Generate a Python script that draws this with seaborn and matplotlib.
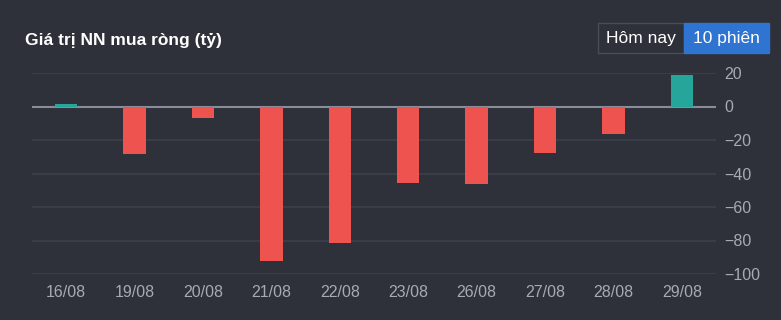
import matplotlib
matplotlib.use("Agg")
import matplotlib.pyplot as plt
import seaborn as sns
import pandas as pd
from matplotlib.patches import Rectangle

dates = ["16/08", "19/08", "20/08", "21/08", "22/08", "23/08", "26/08", "27/08", "28/08", "29/08"]
values = [1.2, -28.5, -7.0, -92.5, -81.5, -45.5, -46.0, -28.0, -16.5, 19.0]
yticks = [20, 0, -20, -40, -60, -80, -100]

BG = "#2e313a"
GRID = "#3d404a"
TXT = "#a8aab2"
RED = "#ef5350"
TEAL = "#26a69a"

sns.set_theme(style="dark")
plt.rcParams["font.family"] = ["Liberation Sans", "DejaVu Sans"]

df = pd.DataFrame({"date": dates, "value": values})
df["sign"] = ["pos" if v >= 0 else "neg" for v in values]

fig = plt.figure(figsize=(7.81, 3.2), dpi=100, facecolor=BG)
ax = fig.add_axes([32/781, 1-274/320, (716-32)/781, (274-73)/320])
ax.set_facecolor(BG)

sns.barplot(data=df, x="date", y="value", hue="sign", palette={"pos": TEAL, "neg": RED},
            dodge=False, width=0.33, legend=False, ax=ax, saturation=1, zorder=3,
            linewidth=0, edgecolor="none")

ax.set_xlim(-0.5, 9.5)
ax.set_ylim(-100, 20)
ax.set_yticks(yticks)
for t in yticks:
    ax.axhline(t, color=GRID, lw=1.2, zorder=1)
ax.axhline(0, color="#8a8d97", lw=1.5, zorder=2)
ax.grid(False)
for s in ax.spines.values():
    s.set_visible(False)
ax.yaxis.tick_right()
ax.tick_params(axis="y", length=0, pad=6, labelsize=11.5, labelcolor=TXT)
ax.tick_params(axis="x", length=0, pad=8, labelsize=11.5, labelcolor=TXT)
ax.set_xlabel("")
ax.set_ylabel("")

fig.text(25/781, 1-40/320, "Giá trị NN mua ròng (tỷ)", color="white", fontsize=12.5,
         fontweight="bold", va="center", ha="left")

# toggle buttons
fig.patches.append(Rectangle((598/781, 1-53/320), (684-598)/781, 30/320, transform=fig.transFigure,
                             facecolor=BG, edgecolor="#4a4d57", lw=1))
fig.patches.append(Rectangle((684/781, 1-53/320), (769-684)/781, 30/320, transform=fig.transFigure,
                             facecolor="#2f74d0", edgecolor="#2f74d0", lw=1))
fig.text(641/781, 1-38.5/320, "Hôm nay", color="white", fontsize=12.5, ha="center", va="center")
fig.text(726.5/781, 1-38.5/320, "10 phiên", color="white", fontsize=12.5, ha="center", va="center")

fig.savefig("out.png", dpi=100, facecolor=BG)
